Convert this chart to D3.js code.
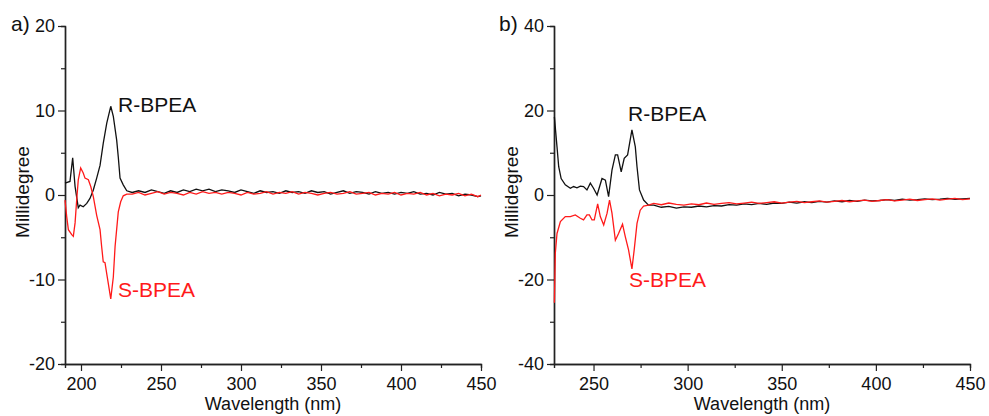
<!DOCTYPE html>
<html>
<head>
<meta charset="utf-8">
<script src="https://d3js.org/d3.v7.min.js"></script>
<style>
  body { margin: 0; background: #fff; }
  svg text { font-family: "Liberation Sans", Arial, sans-serif; }
</style>
</head>
<body>
<script>
// ---- panel a data (wavelength nm, millidegree) ----
var aRWave = [190,193.1,194.8,196.3,198.3,199.4,201.4,203.6,205.6,207.7,209.8,211.9,213.9,216.1,217.1,218.6,220.2,222.3,223.3,224.4,226.4,228.6,
  232,236,240,244,248,252,256,260,264,268,272,276,280,284,288,292,296,300,304,308,312,316,320,324,328,332,336,340,344,348,
  352,356,360,364,368,372,376,380,384,388,392,396,400,404,408,412,416,420,424,428,432,436,440,444,448,450];
var aRMdeg = [1.4,1.6,4.4,1.0,-1.5,-1.2,-1.4,-1.0,-0.4,0.6,2.0,3.5,6.1,8.5,9.3,10.5,9.3,6.5,4.5,2.0,1.2,0.5,
  0.3,0.5,0.3,0.6,0.4,0.2,0.5,0.3,0.6,0.4,0.7,0.5,0.7,0.4,0.6,0.5,0.3,0.6,0.4,0.2,0.5,0.3,0.4,0.2,0.5,0.3,0.4,0.2,0.5,0.3,
  0.4,0.1,0.3,0.5,0.2,0.4,0.3,0.1,0.4,0.2,0.3,0.1,0.3,0.2,0.4,0.1,0.2,0.0,0.3,0.1,0.2,-0.1,0.1,0.0,-0.2,-0.1];
var aSWave = [190,191.1,192.1,194.2,195.2,196.3,197.3,198.3,199.8,201.4,202.5,204.6,206.1,207.7,209.8,211.9,212.9,213.9,215,216.4,218.6,220.2,221.3,223.3,224.8,226.4,228.6,
  232,236,240,244,248,252,256,260,264,268,272,276,280,284,288,292,296,300,304,308,312,316,320,324,328,332,336,340,344,348,
  352,356,360,364,368,372,376,380,384,388,392,396,400,404,408,412,416,420,424,428,432,436,440,444,448,450];
var aSMdeg = [-0.6,-2.6,-4.1,-4.7,-4.9,-3.3,-0.6,1.8,3.2,2.6,2.0,1.8,1.0,-0.2,-2.4,-4.1,-6.1,-7.9,-8.0,-9.7,-12.3,-9.7,-6.1,-2.0,-0.8,-0.1,0.1,
  0.1,0.3,0.0,0.2,0.4,0.1,0.3,0.2,0.0,0.3,0.1,0.4,0.2,0.3,0.1,0.3,0.2,0.0,0.3,0.1,0.2,0.4,0.1,0.3,0.2,0.4,0.1,0.3,0.2,0.0,
  0.2,0.3,0.1,0.2,0.4,0.1,0.2,0.3,0.0,0.2,0.1,0.3,0.0,0.2,0.1,0.3,0.0,0.2,-0.1,0.1,0.0,0.2,-0.1,0.1,-0.2,0.0];

// ---- panel b data ----
var bRWave = [229.2,230.6,231.5,232.8,235.0,237.7,239.4,241.2,243.0,244.7,246.5,248.3,250.0,251.9,254.5,256.3,258.0,259.8,261.6,262.8,264.7,266.3,268.1,270.4,272.2,273.1,274.4,276.6,279.2,
  282,286,290,294,298,302,306,310,314,318,322,326,330,334,338,342,346,350,354,358,362,366,370,374,378,382,386,390,394,398,
  402,406,410,414,418,422,426,430,434,438,442,446,450];
var bRMdeg = [18.5,11.4,6.7,3.9,2.4,1.6,2.0,1.7,2.1,2.0,1.2,2.8,1.6,0.0,3.9,3.5,-0.4,5.9,9.5,9.5,5.5,8.7,9.5,15.4,11.4,6.7,1.2,-1.2,-2.4,
  -2.4,-2.9,-2.7,-3.1,-2.8,-2.9,-2.6,-2.8,-2.5,-2.6,-2.3,-2.4,-2.1,-2.3,-2.0,-2.2,-1.9,-2.0,-1.7,-1.9,-1.6,-1.8,-1.5,-1.7,-1.4,-1.6,-1.3,-1.5,-1.2,-1.4,
  -1.3,-1.1,-1.3,-1.0,-1.2,-1.1,-0.9,-1.1,-1.0,-0.8,-1.0,-0.9,-0.8];
var bSWave = [229.2,229.7,230.6,232.4,235.0,237.7,240.3,243.0,244.7,246.5,247.8,249.2,250.4,252.2,253.6,255.4,257.2,258.5,259.8,261.6,263.3,265.4,266.9,268.6,270.4,271.6,273.1,274.8,276.6,279.2,
  282,286,290,294,298,302,306,310,314,318,322,326,330,334,338,342,346,350,354,358,362,366,370,374,378,382,386,390,394,398,
  402,406,410,414,418,422,426,430,434,438,442,446,450];
var bSMdeg = [-25.5,-13.8,-9.1,-6.3,-5.1,-5.1,-4.7,-5.5,-5.9,-4.7,-4.7,-5.9,-5.9,-2.1,-5.1,-7.1,-4.3,-1.2,-4.3,-10.7,-9.1,-6.9,-9.9,-13.0,-17.5,-13.0,-6.7,-3.6,-2.6,-2.4,
  -2.0,-2.3,-1.9,-2.2,-2.4,-2.1,-2.3,-1.9,-2.2,-2.0,-1.8,-2.1,-1.9,-1.7,-2.0,-1.8,-1.6,-1.9,-1.7,-1.5,-1.8,-1.6,-1.4,-1.7,-1.5,-1.3,-1.6,-1.4,-1.2,-1.5,
  -1.3,-1.1,-1.4,-1.2,-1.0,-1.3,-1.1,-0.9,-1.2,-1.0,-0.8,-1.1,-0.9];

// ---- ticks ----
var aXTicks = [200,250,300,350,400,450], aXMinor = [225,275,325,375,425];
var aYTicks = [-20,-10,0,10,20], aYMinor = [-15,-5,5,15];
var bXTicks = [250,300,350,400,450], bXMinor = [275,325,375,425];
var bYTicks = [-40,-20,0,20,40], bYMinor = [-30,-10,10,30];

var svg = d3.select("body").append("svg")
  .attr("width", 989).attr("height", 416);

function zipXY(xs, ys) {
  var n = Math.min(xs.length, ys.length);
  return d3.range(n).map(function(i) { return [xs[i], ys[i]]; });
}

// plain hyphen for negatives, like the original figure
function plain(d) { return String(d); }

function panel(o) {
  var x = d3.scaleLinear().domain(o.xDom).range([o.left, o.right]);
  var y = d3.scaleLinear().domain(o.yDom).range([364, 26]);
  var g = svg.append("g");

  // minor ticks first
  g.append("g").attr("transform", "translate(0,364)")
    .call(d3.axisBottom(x).tickValues(o.xMinor).tickSize(4).tickFormat(""));
  g.append("g").attr("transform", "translate(" + o.left + ",0)")
    .call(d3.axisLeft(y).tickValues(o.yMinor).tickSize(4).tickFormat(""));

  g.append("g").attr("transform", "translate(0,364)")
    .call(d3.axisBottom(x).tickValues(o.xTicks).tickSize(7).tickSizeOuter(0).tickPadding(6).tickFormat(plain));
  g.append("g").attr("transform", "translate(" + o.left + ",0)")
    .call(d3.axisLeft(y).tickValues(o.yTicks).tickSize(7).tickSizeOuter(0).tickPadding(3).tickFormat(plain));
  g.selectAll(".domain").attr("stroke", "#222").attr("stroke-width", 1.4);
  g.selectAll(".tick line").attr("stroke", "#222").attr("stroke-width", 1.2);
  g.selectAll(".tick text").attr("font-size", 18).attr("fill", "#111")
    .style("font-family", "'Liberation Sans', Arial, sans-serif");

  var line = d3.line().x(function(d) { return x(d[0]); }).y(function(d) { return y(d[1]); });
  g.append("path").datum(zipXY(o.rW, o.rM))
    .attr("d", line).attr("fill", "none").attr("stroke", "#111").attr("stroke-width", 1.3);
  g.append("path").datum(zipXY(o.sW, o.sM))
    .attr("d", line).attr("fill", "none").attr("stroke", "#ff1a1a").attr("stroke-width", 1.3);

  g.append("text").attr("x", o.tagX).attr("y", 31).attr("font-size", 21).attr("fill", "#111").text(o.tag);
  g.append("text")
    .attr("transform", "translate(" + o.ylabX + ",192)rotate(-90)")
    .attr("text-anchor", "middle").attr("font-size", 19).attr("fill", "#111")
    .text("Millidegree");
  g.append("text").attr("x", (o.left + o.right) / 2).attr("y", 410)
    .attr("text-anchor", "middle").attr("font-size", 18).attr("fill", "#111")
    .text("Wavelength (nm)");
  g.append("text").attr("x", o.rLab[0]).attr("y", o.rLab[1]).attr("font-size", 21).attr("fill", "#111").text("R-BPEA");
  g.append("text").attr("x", o.sLab[0]).attr("y", o.sLab[1]).attr("font-size", 21).attr("fill", "#ff1a1a").text("S-BPEA");
}

panel({ left: 65, right: 481, xDom: [190, 450], yDom: [-20, 20],
  xTicks: aXTicks, xMinor: aXMinor, yTicks: aYTicks, yMinor: aYMinor,
  rW: aRWave, rM: aRMdeg, sW: aSWave, sM: aSMdeg,
  tag: "a)", tagX: 11, ylabX: 29, rLab: [118, 112], sLab: [118, 297] });

panel({ left: 554, right: 970, xDom: [229, 450], yDom: [-40, 40],
  xTicks: bXTicks, xMinor: bXMinor, yTicks: bYTicks, yMinor: bYMinor,
  rW: bRWave, rM: bRMdeg, sW: bSWave, sM: bSMdeg,
  tag: "b)", tagX: 499, ylabX: 518, rLab: [628, 121], sLab: [629, 287] });
</script>
</body>
</html>
